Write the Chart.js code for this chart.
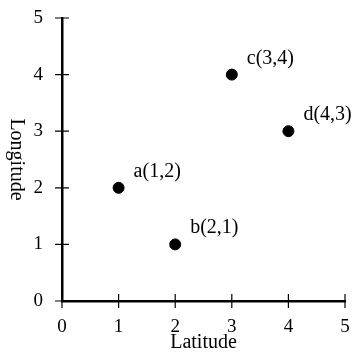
<!DOCTYPE html>
<html>
<head>
<meta charset="utf-8">
<script src="https://cdn.jsdelivr.net/npm/chart.js@4"></script>
<style>
  html, body { margin: 0; padding: 0; background: #fff; }
  #wrap { width: 353px; height: 353px; position: relative; }
</style>
</head>
<body>
<div id="wrap"><canvas id="c"></canvas></div>
<script>
// ---------- data ----------
const names = ["a", "b", "c", "d"];
const lat = [1, 2, 3, 4];
const lon = [2, 1, 4, 3];
const tickVals = [0, 1, 2, 3, 4, 5];
const xTitle = "Latitude";
const yTitle = "Longitude";

const FONT = '"Liberation Serif", "Times New Roman", serif';

// crossing tick marks, point labels and axis titles
const decor = {
  id: "decor",
  afterDraw(chart) {
    const ctx = chart.ctx;
    const xs = chart.scales.x, ys = chart.scales.y;
    const x0 = xs.getPixelForValue(0), y0 = ys.getPixelForValue(0);
    ctx.save();
    ctx.setLineDash([]);
    ctx.strokeStyle = "#000";
    ctx.lineWidth = 1.2;
    ctx.beginPath();
    tickVals.forEach((v) => {
      const px = xs.getPixelForValue(v);
      ctx.moveTo(px, y0 - 7); ctx.lineTo(px, y0 + 7);
      const py = ys.getPixelForValue(v);
      ctx.moveTo(x0 - 7, py); ctx.lineTo(x0 + 7, py);
    });
    ctx.stroke();
    ctx.fillStyle = "#000";
    ctx.font = "20px " + FONT;
    ctx.textAlign = "left";
    ctx.textBaseline = "alphabetic";
    names.forEach((n, i) => {
      const px = xs.getPixelForValue(lat[i]);
      const py = ys.getPixelForValue(lon[i]);
      ctx.fillText(n + "(" + lat[i] + "," + lon[i] + ")", px + 15, py - 11);
    });
    const ca = chart.chartArea;
    ctx.textAlign = "center";
    ctx.fillText(xTitle, (ca.left + ca.right) / 2, 348);
    ctx.translate(16, (ca.top + ca.bottom) / 2);
    ctx.rotate(Math.PI / 2);
    ctx.textBaseline = "middle";
    ctx.fillText(yTitle, 0, 0);
    ctx.restore();
  },
};

new Chart(document.getElementById("c"), {
  type: "scatter",
  data: {
    datasets: [{
      data: lat.map((x, i) => ({ x: x, y: lon[i] })),
      backgroundColor: "#000",
      borderColor: "#000",
      pointRadius: 5.5,
      pointHoverRadius: 5.5,
    }],
  },
  options: {
    responsive: true,
    maintainAspectRatio: false,
    animation: false,
    layout: { padding: { top: 18, right: 8, left: 0, bottom: 0 } },
    plugins: { legend: { display: false }, tooltip: { enabled: false } },
    scales: {
      x: {
        type: "linear", min: 0, max: 5,
        afterFit: (s) => { s.height = 52; s.paddingLeft = 0; s.paddingRight = 0; },
        grid: { display: false },
        border: { display: true, color: "#000", width: 2.5 },
        ticks: { stepSize: 1, padding: 7, color: "#000", font: { family: FONT, size: 19 } },
      },
      y: {
        type: "linear", min: 0, max: 5,
        afterFit: (s) => { s.width = 62; s.paddingTop = 0; s.paddingBottom = 0; },
        grid: { display: false },
        border: { display: true, color: "#000", width: 2.5 },
        ticks: { stepSize: 1, padding: 11, color: "#000", font: { family: FONT, size: 19 } },
      },
    },
  },
  plugins: [decor],
});
</script>
</body>
</html>
